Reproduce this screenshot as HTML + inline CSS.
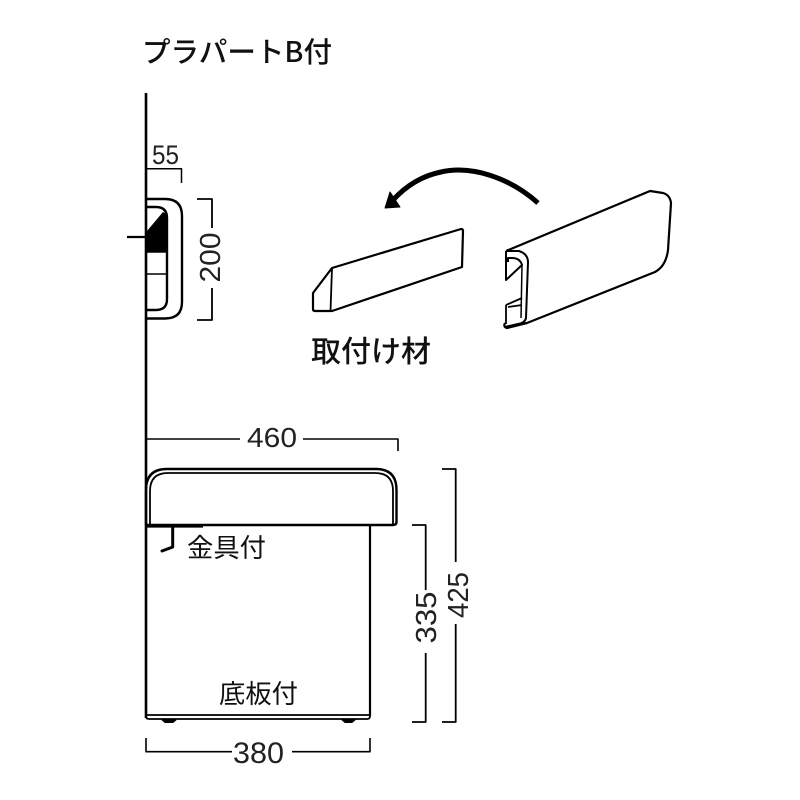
<!DOCTYPE html>
<html lang="ja"><head><meta charset="utf-8"><title>プラパートB付</title>
<style>html,body{margin:0;padding:0;background:#fff}svg{display:block}
text{fill:#111;font-family:"Liberation Sans","Noto Sans CJK JP",sans-serif}
.cjk{font-family:"Noto Sans CJK JP",sans-serif}
.num{fill:#222}
</style></head><body>
<svg width="800" height="800" viewBox="0 0 800 800" xmlns="http://www.w3.org/2000/svg">
<g fill="none" stroke="#000" stroke-linejoin="round" stroke-linecap="butt">
<!-- wall -->
<path d="M146 93V718" stroke-width="2.600"/>
<!-- small section -->
<path d="M146 199H165Q182 199 182 216V302Q182 318.500 165 318.500H146" stroke-width="2.400"/>
<path d="M146 207H156Q167 207 167 218V299Q167 310 156 310H146" stroke-width="2.400"/>
<path d="M147 231L163 212Q168 214 168 220V252H147Z" fill="#000" stroke="none"/>
<path d="M146 252H167M146 274H167" stroke-width="1.600"/>
<path d="M127 237H146" stroke-width="2.200"/>
<!-- dim 55 -->
<path d="M146 168.700H181.500V183" stroke-width="1.500"/>
<!-- dim 200 -->
<path d="M197 199H212V228M212 288V320H197" stroke-width="1.800"/>
<!-- arrow -->
<path d="M538 203C510 178 472 165 441 172C421 176 406 186 393 200" stroke-width="5"/>
<path d="M385 208L390 192L400 207Z" fill="#000" stroke="#000" stroke-width="1"/>
<!-- mounting piece -->
<path d="M332 268L461 229Q463 229 463 231L462 267L332 311H315Q313 311 313 309V293L332 268Z" stroke-width="2.200"/>
<path d="M332 268L330.500 311" stroke-width="1.800"/>
<!-- cover piece -->
<path d="M506 251L650 191L663 193Q670 195 671 203L668 250Q666 266 655 272L527 323L507 328Q503 327 505 323" stroke-width="2.200"/>
<path d="M506 251V280L522 265Q520 258 512 258H508V262" stroke-width="2"/>
<path d="M506 251H519Q528 254 528 262L526 318Q525 323 518 324L505 327" stroke-width="2"/>
<path d="M522 265L521 318" stroke-width="1.500"/>
<path d="M506 305L522 298M506 305V324M508 307L522 305" stroke-width="1.800"/>
<!-- cushion -->
<path d="M146 525V490Q146 469 167 469H376Q396.500 469 396.500 490V522Q396.500 525 393 525H146" stroke-width="2.400"/>
<path d="M150 525V491Q150 473 168 473H375Q393 473 393 491V525" stroke-width="1.800"/>
<!-- base -->
<path d="M370 525V716" stroke-width="2.200"/>
<path d="M146 715H370" stroke-width="1.800"/>
<path d="M146 716Q146 719 149 719H367Q370 719 370 716" stroke-width="1.800"/>
<path d="M162 720H176L173 722.500H165Z" fill="#000" stroke="#000" stroke-width="1"/>
<path d="M342 720H355L352 722.500H345Z" fill="#000" stroke="#000" stroke-width="1"/>
<!-- bracket -->
<path d="M146 526.500H203" stroke-width="2.200"/>
<path d="M172.700 526V547L162 551" stroke-width="3" stroke-linecap="round"/>
<!-- dim 460 -->
<path d="M146 439H240M303 439H398V451" stroke-width="1.600"/>
<!-- dim 380 -->
<path d="M146 738V751.700H232M292 751.700H370V738" stroke-width="1.600"/>
<!-- dim 335 -->
<path d="M412 525H425.700V590M425.700 653V722H412" stroke-width="1.800"/>
<!-- dim 425 -->
<path d="M442 469H455.700V562M455.700 624V722H442" stroke-width="1.800"/>
</g>
<text class="cjk" x="142" y="62" font-size="28.500" font-weight="500" textLength="190" lengthAdjust="spacingAndGlyphs">プラパートB付</text>
<text class="cjk" x="311" y="362" font-size="30" font-weight="500" textLength="120" lengthAdjust="spacingAndGlyphs">取付け材</text>
<text class="cjk" x="187" y="557" font-size="26" textLength="79" lengthAdjust="spacingAndGlyphs">金具付</text>
<text class="cjk" x="219" y="703" font-size="26" textLength="79" lengthAdjust="spacingAndGlyphs">底板付</text>
<text class="num" x="152" y="164" font-size="27" textLength="27" lengthAdjust="spacingAndGlyphs">55</text>
<text class="num" x="247" y="447" font-size="28" textLength="50" lengthAdjust="spacingAndGlyphs">460</text>
<text class="num" x="233" y="763" font-size="30" textLength="51" lengthAdjust="spacingAndGlyphs">380</text>
<text class="num" transform="translate(220 282.500) rotate(-90)" font-size="29" textLength="50" lengthAdjust="spacingAndGlyphs">200</text>
<text class="num" transform="translate(436 643.500) rotate(-90)" font-size="29" textLength="52" lengthAdjust="spacingAndGlyphs">335</text>
<text class="num" transform="translate(468 618) rotate(-90)" font-size="29" textLength="46" lengthAdjust="spacingAndGlyphs">425</text>
</svg>
</body></html>
